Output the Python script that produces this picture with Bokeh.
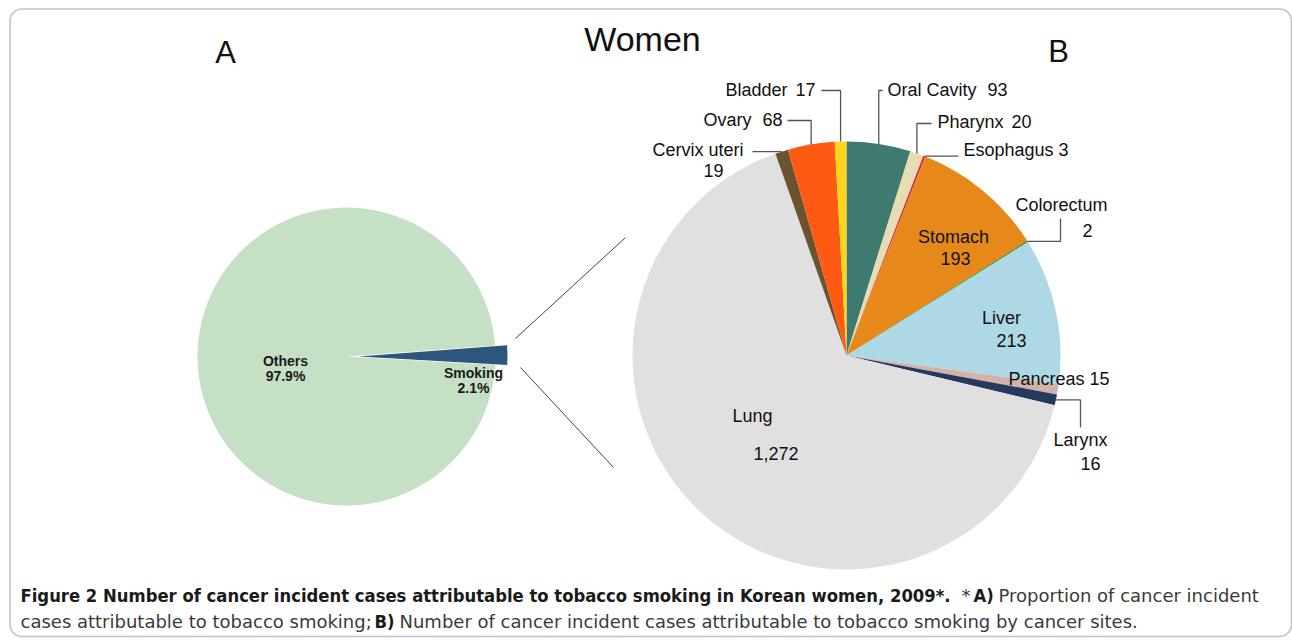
import math
import numpy as np
from bokeh.plotting import figure
from bokeh.models import Range1d, BoxAnnotation, ColumnDataSource
from bokeh.core.properties import value
from bokeh.embed import file_html
from bokeh.resources import INLINE

# ---------------- data ----------------
a_labels = ["Others", "Smoking"]
a_pct = [97.9, 2.1]
a_colors = ["#c5e0c5", "#2e557c"]

b_sites = ["Oral Cavity", "Pharynx", "Esophagus", "Stomach", "Colorectum", "Liver",
           "Pancreas", "Larynx", "Lung", "Cervix uteri", "Ovary", "Bladder"]
b_cases = [93, 20, 3, 193, 2, 213, 15, 16, 1272, 19, 68, 17]
b_colors = ["#3f7a70", "#e8dcb2", "#d0283a", "#e6891a", "#2f8a2f", "#add8e6",
            "#d4b2aa", "#263a60", "#e0e0e0", "#6b5330", "#ff5a14", "#ffd41a"]

# ---------------- figure (data units == page pixels; y = 640 - py) ----------------
W, H = 1292, 640
p = figure(width=W, height=H, output_backend="svg", toolbar_location=None,
           x_range=Range1d(0, W), y_range=Range1d(0, H),
           x_axis_type=None, y_axis_type=None, min_border=0)
p.grid.visible = False
p.outline_line_color = None
p.background_fill_color = "white"


def Y(py):
    return 640 - py


FONT = value("Liberation Sans")
TXT = "#111111"
LEAD = "#555555"
LS = "18px"

# border box
p.add_layout(BoxAnnotation(left=9.5, right=1291, top=Y(8.5), bottom=Y(636),
                           border_radius=12, fill_alpha=0, line_color="#333333",
                           line_width=1.6))

# ---------------- Pie A ----------------
acx, acy, ar = 346, Y(356), 149
smoke_mid = math.radians(0.5)
smoke_half = math.pi * a_pct[1] / 100.0
s0, s1 = smoke_mid - smoke_half, smoke_mid + smoke_half
explode = 12
p.wedge(x=[acx], y=[acy], radius=ar, start_angle=[s1], end_angle=[s0 + 2 * math.pi],
        fill_color=a_colors[0], line_color=None)
p.wedge(x=[acx + explode * math.cos(smoke_mid)], y=[acy + explode * math.sin(smoke_mid)],
        radius=ar, start_angle=[s0], end_angle=[s1], fill_color=a_colors[1], line_color=None)

a_txt_x = [285, 473]
a_txt_y = [Y(360), Y(372)]
for i in range(2):
    p.text(x=[a_txt_x[i]], y=[a_txt_y[i]], text=[a_labels[i]], text_font=FONT,
           text_font_style="bold", text_font_size="14px", text_color="#1a1a1a",
           text_align="center", text_baseline="middle")
    p.text(x=[a_txt_x[i]], y=[a_txt_y[i] - 15], text=[f"{a_pct[i]}%"], text_font=FONT,
           text_font_style="bold", text_font_size="14px", text_color="#1a1a1a",
           text_align="center", text_baseline="middle")

# connector lines
p.line(x=[515, 625], y=[Y(338), Y(237)], line_color="#444444", line_width=1)
p.line(x=[520, 613], y=[Y(367), Y(467)], line_color="#444444", line_width=1)

# ---------------- Pie B ----------------
bcx, bcy, br = 846, Y(355), 214
tot = float(sum(b_cases))
cum = np.cumsum([0] + b_cases) / tot
starts = math.pi / 2 - 2 * math.pi * cum[1:]
ends = math.pi / 2 - 2 * math.pi * cum[:-1]
src = ColumnDataSource(dict(start=starts, end=ends, color=b_colors))
p.wedge(x=bcx, y=bcy, radius=br, start_angle="start", end_angle="end",
        fill_color="color", line_color=None, source=src)


def anchor(i):
    a = math.pi / 2 - 2 * math.pi * (cum[i] + cum[i + 1]) / 2
    return bcx + br * math.cos(a), bcy + br * math.sin(a)


def fmt(v):
    return f"{v:,}"


idx = {n: k for k, n in enumerate(b_sites)}


def lab(txt, x, py, align="left", size=LS):
    p.text(x=[x], y=[Y(py)], text=[txt], text_font=FONT, text_font_size=size,
           text_color=TXT, text_align=align, text_baseline="middle")


def leader(xs, ys):
    p.line(x=xs, y=ys, line_color=LEAD, line_width=1.3)


# Bladder
i = idx["Bladder"]; ax, ay = anchor(i)
lab("Bladder", 725, 89, "left")
lab(fmt(b_cases[i]), 815, 89, "right")
leader([821, ax, ax], [Y(90), Y(90), ay])
# Ovary
i = idx["Ovary"]; ax, ay = anchor(i)
lab("Ovary", 703, 119, "left")
lab(fmt(b_cases[i]), 782, 119, "right")
leader([787, ax, ax], [Y(120), Y(120), ay])
# Cervix uteri
i = idx["Cervix uteri"]; ax, ay = anchor(i)
lab("Cervix uteri", 743, 149, "right")
lab(fmt(b_cases[i]), 713, 170, "center")
leader([752, ax], [ay, ay])
# Oral cavity
i = idx["Oral Cavity"]; ax, ay = anchor(i)
lab("Oral Cavity", 887, 89, "left")
lab(fmt(b_cases[i]), 1007, 89, "right")
leader([ax, ax, 882], [ay, Y(90), Y(90)])
# Pharynx
i = idx["Pharynx"]; ax, ay = anchor(i)
lab("Pharynx", 937, 121, "left")
lab(fmt(b_cases[i]), 1031, 121, "right")
leader([ax, ax, 931], [ay, Y(123), Y(123)])
# Esophagus
i = idx["Esophagus"]; ax, ay = anchor(i)
lab(f"Esophagus {fmt(b_cases[i])}", 963, 149, "left")
leader([ax, 958], [ay, ay])
# Colorectum
i = idx["Colorectum"]; ax, ay = anchor(i)
lab("Colorectum", 1015, 204, "left")
lab(fmt(b_cases[i]), 1087, 230, "center")
leader([ax, 1060, 1060], [ay, ay, Y(218)])
# Stomach
i = idx["Stomach"]
lab("Stomach", 953, 236, "center")
lab(fmt(b_cases[i]), 955, 258, "center")
# Liver
i = idx["Liver"]
lab("Liver", 1001, 317, "center")
lab(fmt(b_cases[i]), 1011, 340, "center")
# Pancreas
i = idx["Pancreas"]
lab(f"Pancreas {fmt(b_cases[i])}", 1008, 378, "left")
# Larynx
i = idx["Larynx"]; ax, ay = anchor(i)
lab("Larynx", 1053, 439, "left")
lab(fmt(b_cases[i]), 1090, 463, "center")
leader([ax, 1080, 1080], [ay, ay, Y(427)])
# Lung
i = idx["Lung"]
lab("Lung", 732, 415, "left")
lab(fmt(b_cases[i]), 753, 453, "left")

# ---------------- titles ----------------
lab("Women", 642, 38, "center", "34px")
lab("A", 225, 52, "center", "31px")
lab("B", 1058, 51, "center", "31px")

# ---------------- caption ----------------
BF = value("DejaVu Sans Condensed")
RF = value("DejaVu Sans")
BOLD_C = "#1a1a1a"
REG_C = "#3a3a3a"


def cap(txt, x, py, bold):
    p.text(x=[x], y=[Y(py)], text=[txt], text_font=BF if bold else RF,
           text_font_size="18.3px" if bold else "18px",
           text_font_style="bold" if bold else "normal",
           text_color=BOLD_C if bold else REG_C, text_align="left",
           text_baseline="middle")


cap("Figure 2 Number of cancer incident cases attributable to tobacco smoking in Korean women, 2009*.",
    20, 595, True)
cap("*", 961, 595, False)
cap("A)", 973, 595, True)
cap("Proportion of cancer incident", 998, 595, False)
cap("cases attributable to tobacco smoking;", 20, 621, False)
cap("B)", 374, 621, True)
cap("Number of cancer incident cases attributable to tobacco smoking by cancer sites.", 399, 621, False)

open("out.html", "w").write(file_html(p, INLINE))
